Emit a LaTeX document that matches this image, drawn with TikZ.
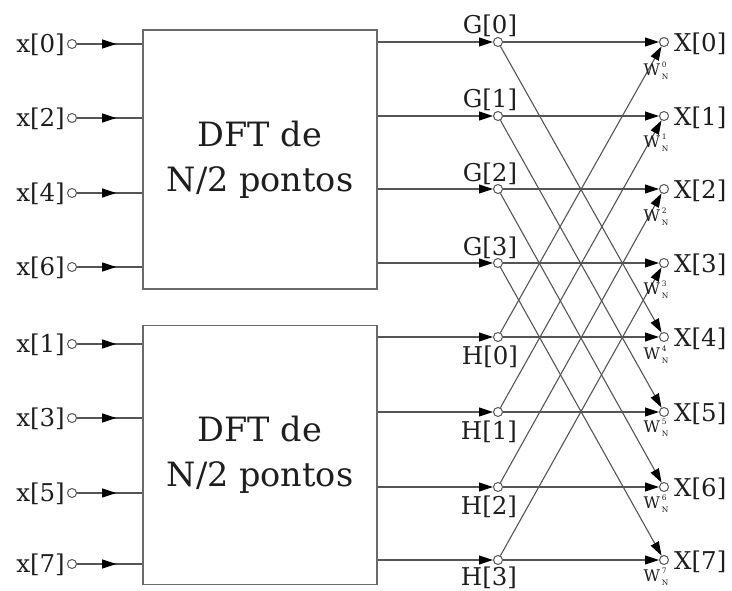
\documentclass[tikz,border=0pt]{standalone}
\usepackage{fontspec}
\setmainfont{DejaVu Serif}
\usetikzlibrary{arrows.meta,decorations.markings,calc}
\definecolor{wirec}{HTML}{555555}
\definecolor{boxc}{HTML}{6A6A6A}
\definecolor{txtc}{HTML}{1E1E1E}
\newcommand{\wsubfont}{\fontsize{7.5}{7.5}\selectfont}
\newcommand{\Wlab}[1]{\fontsize{16}{16}\selectfont W\kern1.8pt\rlap{\raisebox{7.6pt}{\wsubfont #1}}\raisebox{-4.6pt}{\wsubfont N}}
\tikzset{
  wire/.style={draw=wirec, line width=1.1pt},
  tipped/.style={wire, -{Triangle[length=14pt,width=9pt,color=black]}},
  midtip/.style={wire, postaction={decorate}, decoration={markings,
      mark=at position 0.6 with {\arrow{Triangle[length=14pt,width=9pt,color=black]}}}},
  dot/.style={circle, draw=wirec, line width=1pt, fill=white, minimum size=9pt, inner sep=0pt},
  lab/.style={text=txtc, font=\fontsize{24.5}{24.5}\selectfont, inner sep=1pt},
  wlab/.style={text=txtc, inner sep=0pt},
  dftbox/.style={draw=boxc, line width=1.4pt, minimum width=234pt, minimum height=259pt,
      align=center, text=txtc, font=\fontsize{33.5}{45}\selectfont, inner sep=0pt},
}
\begin{document}
\begin{tikzpicture}[x=1pt,y=-1pt]
\useasboundingbox (0,0) rectangle (732,591);
% boxes
\node[dftbox] (box1) at (260,159.5) {DFT de\\N/2 pontos};
\node[dftbox] (box2) at (260,455) {DFT de\\N/2 pontos};
% inputs
\foreach \lbl/\yy/\b [count=\i from 0] in {0/44/box1,2/118/box1,4/193/box1,6/267/box1,1/344/box2,3/418/box2,5/493/box2,7/564/box2}{
  \node[dot] (in\i) at (72,\yy) {};
  \node[lab, anchor=east] (inl\i) at (66,\yy+1) {x[\lbl]};
  \draw[midtip] (in\i) -- (in\i -| \b.west);
}
% middle and output dots
\foreach \yy [count=\i from 0] in {42,116,189,263,337,412,487,560}{
  \node[dot] (m\i) at (498,\yy) {};
  \node[dot] (o\i) at (664,\yy) {};
  \node[lab, anchor=west] (ol\i) at (673,\yy+2) {X[\i]};
}
\foreach \i in {0,...,3}{
  \node[lab] (gl\i) at (490,{42+74*\i-16}) {G[\i]};
}
\node[lab] (hl0) at (490,357) {H[0]};
\node[lab] (hl1) at (489,432) {H[1]};
\node[lab] (hl2) at (489,507) {H[2]};
\node[lab] (hl3) at (489,578) {H[3]};
% box outputs
\foreach \i in {0,...,3}{ \draw[tipped] (m\i -| box1.east) -- (m\i); }
\foreach \i in {4,...,7}{ \draw[tipped] (m\i -| box2.east) -- (m\i); }
% butterflies
\foreach \i in {0,...,7}{ \draw[tipped] (m\i) -- (o\i); }
\foreach \i in {0,...,3}{
  \pgfmathtruncatemacro{\j}{\i+4}
  \draw[tipped] (m\i) -- (o\j);
  \draw[tipped] (m\j) -- (o\i);
}
% twiddle labels
\foreach \k/\yy in {0/71,1/143,2/217,3/290,4/355,5/428,6/504,7/577}{
  \node[wlab] (w\k) at (656,\yy) {\Wlab{\k}};
}
\end{tikzpicture}
\end{document}
